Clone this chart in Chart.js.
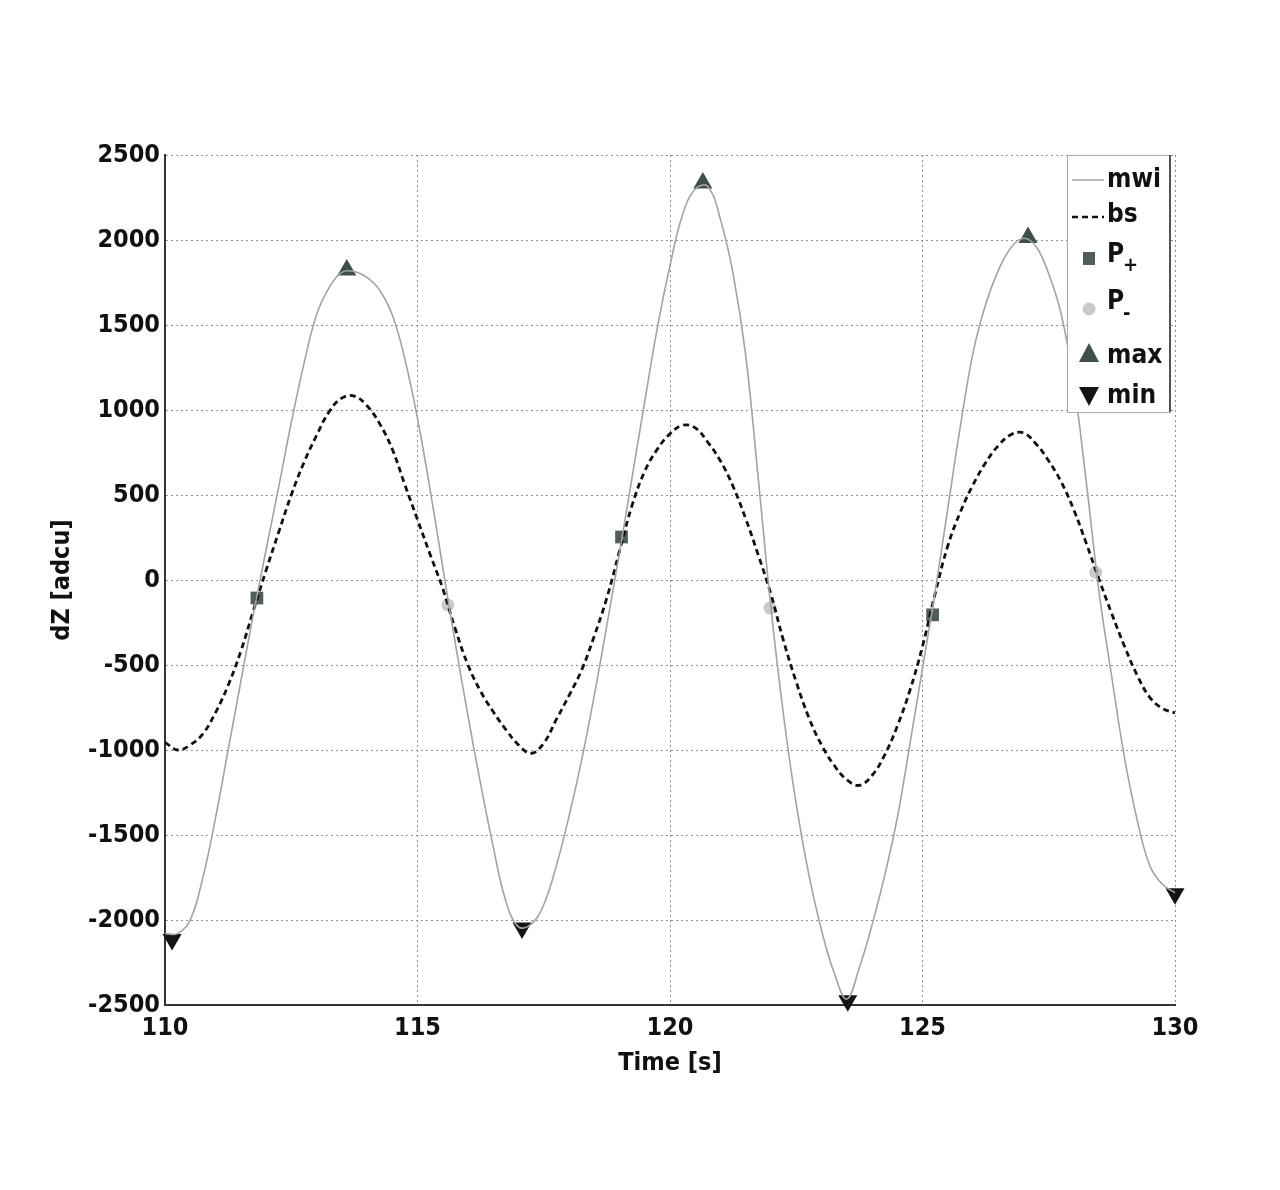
<!DOCTYPE html>
<html lang="en">
<head>
  <meta charset="UTF-8" />
  <title>dZ vs Time</title>
  <script src="https://cdn.jsdelivr.net/npm/chart.js"></script>
  <style>
    body {
      margin: 0;
      background: #fff;
    }
    .wrap {
      position: relative;
      width: 1280px;
      height: 1190px;
    }
  </style>
</head>
<body>
  <div class="wrap">
    <canvas id="chart" width="1280" height="1190"></canvas>
  </div>

  <script>
    // time axis for both signals: 110 s .. 130 s, one reading every 0.25 s
    const times = [110.0, 110.25, 110.5, 110.75, 111.0, 111.25, 111.5, 111.75, 112.0, 112.25,
      112.5, 112.75, 113.0, 113.25, 113.5, 113.75, 114.0, 114.25, 114.5, 114.75,
      115.0, 115.25, 115.5, 115.75, 116.0, 116.25, 116.5, 116.75, 117.0, 117.25,
      117.5, 117.75, 118.0, 118.25, 118.5, 118.75, 119.0, 119.25, 119.5, 119.75,
      120.0, 120.25, 120.5, 120.75, 121.0, 121.25, 121.5, 121.75, 122.0, 122.25,
      122.5, 122.75, 123.0, 123.25, 123.5, 123.75, 124.0, 124.25, 124.5, 124.75,
      125.0, 125.25, 125.5, 125.75, 126.0, 126.25, 126.5, 126.75, 127.0, 127.25,
      127.5, 127.75, 128.0, 128.25, 128.5, 128.75, 129.0, 129.25, 129.5, 129.75,
      130.0];

    // mwi signal (solid grey)
    const mwiV = [-2080, -2080, -2000, -1750, -1400, -1000, -600, -200, 175, 545,
      925, 1270, 1560, 1720, 1810, 1815, 1780, 1705, 1560, 1300,
      950, 530, 75, -375, -800, -1200, -1570, -1890, -2040, -2025,
      -1910, -1680, -1390, -1060, -680, -265, 160, 605, 1050, 1485,
      1850, 2150, 2300, 2315, 2120, 1800, 1320, 590, -165, -800,
      -1320, -1735, -2060, -2310, -2465, -2280, -2030, -1740, -1400, -965,
      -520, -70, 420, 905, 1335, 1620, 1820, 1955, 2010, 1960,
      1800, 1560, 1150, 560, -80, -575, -1045, -1410, -1680, -1790,
      -1840];

    // bs signal (dashed black)
    const bsV = [-955, -1000, -970, -905, -780, -620, -420, -180, 55, 280,
      500, 690, 850, 990, 1070, 1082, 1025, 920, 770, 560,
      355, 150, -50, -290, -500, -655, -775, -880, -970, -1020,
      -960, -820, -680, -530, -330, -105, 170, 440, 640, 770,
      860, 910, 895, 810, 700, 550, 360, 145, -85, -360,
      -600, -810, -970, -1090, -1175, -1208, -1150, -1030, -860, -650,
      -390, -80, 200, 400, 560, 690, 790, 855, 865, 800,
      700, 575, 410, 210, 0, -200, -390, -560, -690, -755,
      -782];

    // detected points
    const pPlusT = [111.82, 119.04, 125.2];
    const pPlusV = [-106, 253, -205];
    const pMinusT = [115.6, 121.98, 128.43];
    const pMinusV = [-147, -165, 45];
    const maxT = [113.6, 120.65, 127.09];
    const maxV = [1824, 2335, 2015];
    const minT = [110.14, 117.07, 123.52, 130.0];
    const minV = [-2115, -2047, -2475, -1845];

    const toXY = (t, v) => t.map((x, i) => ({ x, y: v[i] }));

    const FONT = "'DejaVu Sans Condensed', 'DejaVu Sans', sans-serif";

    const styles = {
      mwi: { color: '#a3a3a3' },
      bs: { color: '#111' },
      pPlus: { color: '#4f5e5a' },
      pMinus: { color: '#cacaca' },
      max: { color: '#3e4f4a' },
      min: { color: '#141414' }
    };

    // legend drawn inside the plot, top-right like the original
    const boxLegend = {
      id: 'boxLegend',
      afterDatasetsDraw(chart) {
        const ctx = chart.ctx;
        const x0 = 1067, y0 = 155, x1 = 1170, y1 = 412;
        ctx.save();
        ctx.fillStyle = '#fff';
        ctx.fillRect(x0, y0, x1 - x0, y1 - y0);
        ctx.strokeStyle = '#aaa';
        ctx.lineWidth = 1;
        ctx.strokeRect(x0 + 0.5, y0 + 0.5, x1 - x0, y1 - y0);
        ctx.strokeStyle = '#555';
        ctx.lineWidth = 2;
        ctx.beginPath();
        ctx.moveTo(x1, y0);
        ctx.lineTo(x1, y1);
        ctx.stroke();

        ctx.font = 'bold 26px ' + FONT;
        ctx.fillStyle = '#111';
        ctx.textBaseline = 'middle';
        const tx = 1107;

        // mwi
        ctx.strokeStyle = styles.mwi.color;
        ctx.lineWidth = 1.5;
        ctx.beginPath(); ctx.moveTo(1072, 180); ctx.lineTo(1104, 180); ctx.stroke();
        ctx.fillText('mwi', tx, 180);

        // bs
        ctx.strokeStyle = styles.bs.color;
        ctx.lineWidth = 2.5;
        ctx.setLineDash([6, 4]);
        ctx.beginPath(); ctx.moveTo(1072, 217); ctx.lineTo(1104, 217); ctx.stroke();
        ctx.setLineDash([]);
        ctx.fillText('bs', tx, 215);

        // P+
        ctx.fillStyle = styles.pPlus.color;
        ctx.fillRect(1083, 252, 12, 13);
        ctx.fillStyle = '#111';
        ctx.fillText('P', tx, 255);
        ctx.font = 'bold 20px ' + FONT;
        ctx.fillText('+', tx + 16, 266);

        // P-
        ctx.font = 'bold 26px ' + FONT;
        ctx.fillStyle = styles.pMinus.color;
        ctx.beginPath(); ctx.arc(1089, 309, 6.5, 0, Math.PI * 2); ctx.fill();
        ctx.fillStyle = '#111';
        ctx.fillText('P', tx, 302);
        ctx.font = 'bold 20px ' + FONT;
        ctx.fillText('-', tx + 16, 314);

        // max
        ctx.font = 'bold 26px ' + FONT;
        ctx.fillStyle = styles.max.color;
        ctx.beginPath(); ctx.moveTo(1089, 343); ctx.lineTo(1099, 362); ctx.lineTo(1079, 362); ctx.closePath(); ctx.fill();
        ctx.fillStyle = '#111';
        ctx.fillText('max', tx, 356);

        // min
        ctx.fillStyle = styles.min.color;
        ctx.beginPath(); ctx.moveTo(1079, 387); ctx.lineTo(1099, 387); ctx.lineTo(1089, 406); ctx.closePath(); ctx.fill();
        ctx.fillStyle = '#111';
        ctx.fillText('min', tx, 396);
        ctx.restore();
      }
    };

    const tickFont = { family: FONT, size: 25, weight: 'bold' };

    new Chart(document.getElementById('chart').getContext('2d'), {
      type: 'scatter',
      data: {
        datasets: [
          {
            label: 'mwi',
            data: toXY(times, mwiV),
            showLine: true,
            borderColor: styles.mwi.color,
            borderWidth: 1.6,
            pointRadius: 0,
            tension: 0.4
          },
          {
            label: 'bs',
            data: toXY(times, bsV),
            showLine: true,
            borderColor: styles.bs.color,
            borderWidth: 2.8,
            borderDash: [6, 4],
            pointRadius: 0,
            tension: 0.4
          },
          {
            label: 'P+',
            data: toXY(pPlusT, pPlusV),
            pointStyle: 'rect',
            pointRadius: 9,
            backgroundColor: styles.pPlus.color,
            borderColor: styles.pPlus.color,
            borderWidth: 0
          },
          {
            label: 'P-',
            data: toXY(pMinusT, pMinusV),
            pointStyle: 'circle',
            pointRadius: 6.5,
            backgroundColor: styles.pMinus.color,
            borderColor: styles.pMinus.color,
            borderWidth: 0
          },
          {
            label: 'max',
            data: toXY(maxT, maxV),
            pointStyle: 'triangle',
            pointRadius: 11,
            backgroundColor: styles.max.color,
            borderColor: styles.max.color,
            borderWidth: 0
          },
          {
            label: 'min',
            data: toXY(minT, minV),
            pointStyle: 'triangle',
            rotation: 180,
            pointRadius: 11,
            backgroundColor: styles.min.color,
            borderColor: styles.min.color,
            borderWidth: 0
          }
        ]
      },
      options: {
        responsive: false,
        animation: false,
        clip: false,
        layout: { padding: { left: 0, top: 155, right: 105, bottom: 100 } },
        plugins: {
          legend: { display: false },
          tooltip: { enabled: false }
        },
        scales: {
          x: {
            type: 'linear',
            min: 110,
            max: 130,
            ticks: {
              stepSize: 5,
              color: '#111',
              padding: 8,
              maxRotation: 0,
              font: tickFont,
              callback: v => String(v)
            },
            grid: { color: '#8f8f8f', lineWidth: 1, drawTicks: false },
            border: { display: true, color: '#333', width: 2, dash: [2, 3] },
            title: {
              display: true,
              text: 'Time [s]',
              color: '#111',
              padding: { top: 0, bottom: 12 },
              font: tickFont
            },
            afterFit(scale) { scale.height = 85; }
          },
          y: {
            min: -2500,
            max: 2500,
            ticks: {
              stepSize: 500,
              color: '#111',
              padding: 5,
              font: tickFont,
              callback: v => String(v)
            },
            grid: { color: '#8f8f8f', lineWidth: 1, drawTicks: false },
            border: { display: true, color: '#333', width: 2, dash: [2, 3] },
            title: {
              display: true,
              text: 'dZ [adcu]',
              color: '#111',
              padding: { top: 47, bottom: 0 },
              font: tickFont
            },
            afterFit(scale) { scale.width = 165; }
          }
        }
      },
      plugins: [boxLegend]
    });
  </script>
</body>
</html>
